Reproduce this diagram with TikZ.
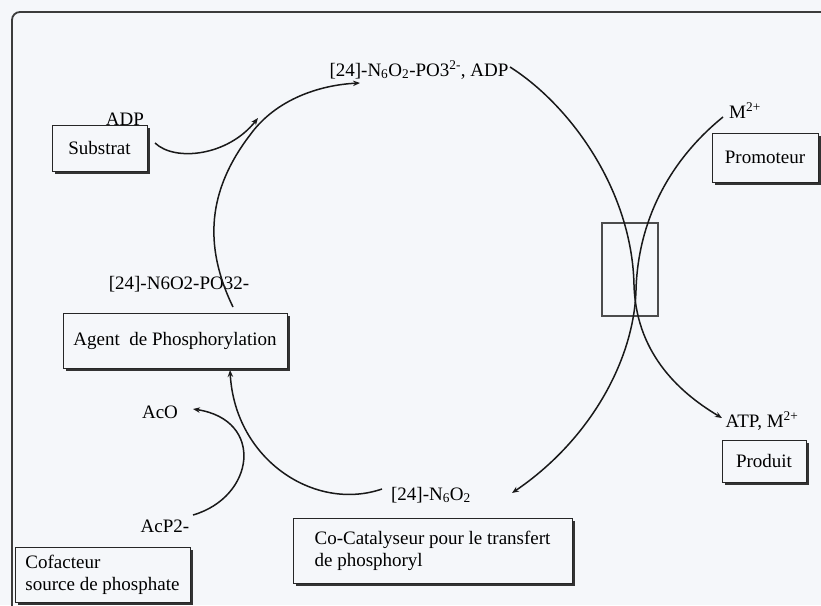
\documentclass[tikz,border=0pt]{standalone}
\usepackage{fontspec}
\setmainfont{Liberation Serif}
\usetikzlibrary{arrows.meta,shadows}
\definecolor{bg}{RGB}{245,247,250}
\definecolor{framecol}{RGB}{60,60,60}
\begin{document}
\begin{tikzpicture}[x=1pt,y=-1pt,
  lbl/.style={inner sep=0pt, anchor=base, font=\fontsize{19}{21}\selectfont},
  box/.style={draw=black!85, line width=1pt, fill=bg, inner sep=0pt,
    font=\fontsize{19}{22}\selectfont, align=left,
    drop shadow={shadow xshift=2.5pt, shadow yshift=-2.5pt, fill=black!80, opacity=1}},
  conn/.style={line width=1.5pt, draw=black!90},
  arr/.style={conn, -{Stealth[length=7pt,width=5.5pt]}}
]
\useasboundingbox (0,0) rectangle (821,605);
\clip (0,0) rectangle (821,605);
\fill[bg] (0,0) rectangle (821,605);
\draw[framecol, line width=1.8pt, rounded corners=8pt] (12,12) rectangle (850,650);

% boxes
\node[box, minimum width=106pt, minimum height=49pt] (prom) at (765,157.5) {Promoteur};
\node[box, minimum width=95pt, minimum height=46pt] (sub) at (99.5,148) {Substrat};
\node[box, minimum width=224pt, minimum height=55pt] (agent) at (175,340.5) {Agent~ de Phosphorylation};
\node[box, minimum width=84pt, minimum height=42pt] (prod) at (764,461) {Produit};
\node[box, minimum width=279pt, minimum height=65pt] (cocat) at (432.5,550.5) {Co-Catalyseur pour le transfert\\de phosphoryl};
\node[box, minimum width=175pt, minimum height=55pt] (cof) at (102.5,574.5) {Cofacteur\\source de phosphate};

% small crossing rectangle
\node[draw=black!70, line width=1.3pt, minimum width=56pt, minimum height=93pt, inner sep=0pt] (hub) at (630,269.5) {};

% labels
\node[lbl] (adp) at (125,125) {ADP};
\node[lbl] (top) at (419,76) {[24]-N\textsubscript{6}O\textsubscript{2}-PO3\textsuperscript{2-}, ADP};
\node[lbl] (m2) at (745,118) {M\textsuperscript{2+}};
\node[lbl] (p32) at (179,289) {[24]-N6O2-PO32-};
\node[lbl] (aco) at (160,418) {AcO};
\node[lbl] (atp) at (762,427) {ATP, M\textsuperscript{2+}};
\node[lbl] (n6) at (431,500) {[24]-N\textsubscript{6}O\textsubscript{2}};
\node[lbl] (acp) at (165,532) {AcP2-};

% connector end points
\coordinate (s0) at (155,143);
\coordinate (s1) at (258,118);
\coordinate (l0) at (233,307);
\coordinate (l1) at (360,83);
\coordinate (r0) at (510,67);
\coordinate (r1) at (722,418);
\coordinate (m0) at (723,117);
\coordinate (m1) at (512,493);
\coordinate (b0) at (382,489);
\coordinate (b1) at (230,370);
\coordinate (c0) at (193,515);
\coordinate (c1) at (193,409);

% connectors
\draw[arr] (s0) .. controls (175,162) and (228,156) .. (s1);
\draw[arr] (l0) .. controls (203,245) and (208,190) .. (250,135)
               .. controls (276,99) and (320,85) .. (l1);
\draw[arr] (r0) .. controls (570,105) and (632,190) .. (634,285)
               .. controls (636,350) and (675,390) .. (r1);
\draw[arr] (m0) .. controls (670,160) and (638,220) .. (636,290)
               .. controls (634,360) and (590,440) .. (m1);
\draw[arr] (b0) .. controls (315,512) and (235,460) .. (b1);
\draw[arr] (c0) .. controls (255,497) and (265,420) .. (c1);
\end{tikzpicture}
\end{document}
